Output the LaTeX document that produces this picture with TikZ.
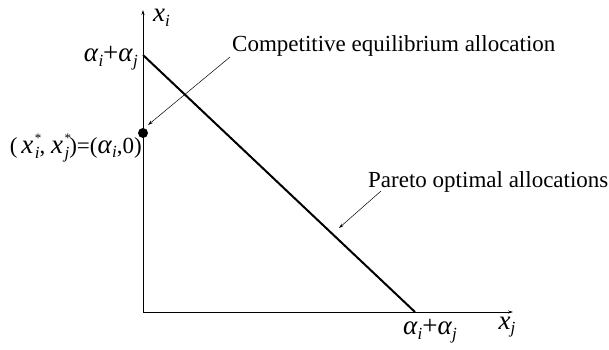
\documentclass[tikz,border=0pt]{standalone}
\usetikzlibrary{arrows.meta}
\usepackage{fontspec}
\setmainfont{Liberation Serif}
\newcommand{\vi}[1]{{\fontsize{27}{29}\selectfont\textit{#1}}}
\newcommand{\pl}{{\fontsize{27}{29}\selectfont +}}
\newcommand{\sbs}[1]{\raisebox{-0.45ex}{\fontsize{17}{17}\selectfont\textit{#1}}}
\newcommand{\supsub}[2]{\kern1.5pt\rlap{\raisebox{1.0ex}{\fontsize{13}{13}\selectfont #1}}\raisebox{-0.5ex}{\fontsize{17}{17}\selectfont\textit{#2}}}
\begin{document}
\begin{tikzpicture}[x=1pt,y=-1pt,
  lbl/.style={inner sep=0pt,font=\fontsize{23}{25}\selectfont},
  axis/.style={line width=0.7pt,-{Stealth[length=5pt,width=3pt]}},
  pointer/.style={line width=0.5pt,-{Stealth[length=5pt,width=3pt]}}]
\useasboundingbox (0,0) rectangle (609,349);
\coordinate (O) at (143,312);
\coordinate (ytop) at (143,10);
\coordinate (xend) at (513,312);
\coordinate (A) at (143,55);
\coordinate (B) at (415,312);
\draw[axis] (O) -- (ytop);
\draw[axis] (O) -- (xend);
\draw[line width=2pt] (A) -- (B);
\node[circle,fill=black,inner sep=0pt,minimum size=10pt] (dot) at (143,133) {};
\node[lbl,anchor=west] (xi) at (153,18) {\vi{x}\sbs{i}};
\node[lbl,anchor=east] (top) at (138,58) {\vi{α}\sbs{i}\pl\vi{α}\sbs{j}};
\node[lbl,anchor=east] (eq) at (142,148) {(\,\vi{x}\supsub{*}{i}, \vi{x}\supsub{*}{j})=(\vi{α}\sbs{i},0)};
\node[lbl,anchor=west] (ce) at (232,46) {Competitive equilibrium allocation};
\node[lbl,anchor=west] (po) at (368,182) {Pareto optimal allocations};
\node[lbl] (bot) at (430,331) {\vi{α}\sbs{i}\pl\vi{α}\sbs{j}};
\node[lbl] (xj) at (507,327) {\vi{x}\sbs{j}};
\coordinate (c1) at (230,57);
\coordinate (c1end) at (148,125);
\coordinate (c2) at (381,191);
\coordinate (c2end) at (339,228);
\draw[pointer] (c1) -- (c1end);
\draw[pointer] (c2) -- (c2end);
\end{tikzpicture}
\end{document}
